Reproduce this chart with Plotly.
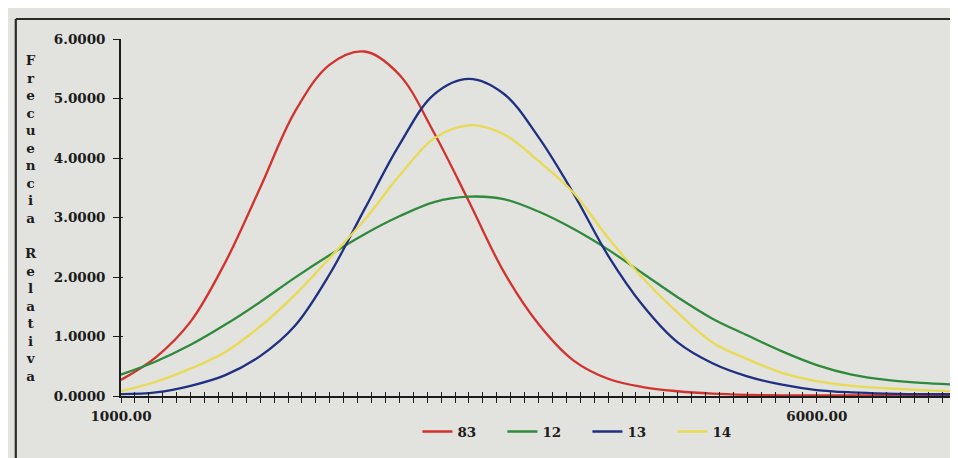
import plotly.graph_objects as go

# ---- data ----
x_vals = [1000, 1250, 1500, 1750, 2000, 2250, 2500, 2750, 3000, 3250, 3500, 3750,
          4000, 4250, 4500, 4750, 5000, 5250, 5500, 5750, 6000, 6250, 6500, 6750, 7000]

series_names = ["83", "12", "13", "14"]

s83 = [0.27, 0.65, 1.25, 2.25, 3.50, 4.78, 5.57, 5.79, 5.40, 4.42, 3.27, 2.09,
       1.21, 0.60, 0.29, 0.15, 0.08, 0.04, 0.02, 0.01, 0.01, 0.01, 0.01, 0.01, 0.01]
s12 = [0.36, 0.58, 0.86, 1.20, 1.58, 1.99, 2.37, 2.72, 3.02, 3.26, 3.35, 3.31,
       3.10, 2.81, 2.46, 2.06, 1.66, 1.30, 1.02, 0.75, 0.52, 0.36, 0.27, 0.22, 0.19]
s13 = [0.03, 0.06, 0.17, 0.35, 0.67, 1.18, 2.05, 3.14, 4.22, 5.07, 5.33, 5.08,
       4.35, 3.41, 2.36, 1.52, 0.90, 0.55, 0.33, 0.19, 0.10, 0.06, 0.04, 0.03, 0.03]
s14 = [0.08, 0.24, 0.46, 0.74, 1.17, 1.70, 2.32, 2.96, 3.70, 4.33, 4.55, 4.40,
       3.95, 3.42, 2.66, 1.98, 1.40, 0.90, 0.62, 0.39, 0.25, 0.17, 0.13, 0.10, 0.08]

x_tick_vals = [1000, 6000]
x_tick_text = ["1000.00", "6000.00"]
y_tick_vals = [0, 1, 2, 3, 4, 5, 6]
y_title = "Frecuencia Relativa"

colors = ["#d1322d", "#2f8a3c", "#1f2f82", "#e8da52"]
series = [s83, s12, s13, s14]

BG = "#e2e2de"
INK = "#1c1c1c"
FONT = "DejaVu Serif"
FS = 13.5

fig = go.Figure()
for name, ys, c in zip(series_names, series, colors):
    fig.add_trace(go.Scatter(x=x_vals, y=ys, mode="lines", name=name,
                             line=dict(color=c, width=2.3, shape="spline", smoothing=1.0),
                             hoverinfo="skip"))

# invisible companion trace to host the overlay axes (inside half of the crossing ticks)
fig.add_trace(go.Scatter(x=x_vals, y=s83, xaxis="x2", yaxis="y2", mode="lines",
                         line=dict(width=0), opacity=0, showlegend=False, hoverinfo="skip"))

# vertical stacked title
title_text = "<br>".join(" " if ch == " " else ch for ch in y_title)

fnt = dict(family=FONT, size=FS, color=INK, weight="bold")

fig.update_layout(
    width=958, height=458, autosize=False,
    margin=dict(l=113, r=10, t=31, b=70),
    paper_bgcolor=BG, plot_bgcolor=BG,
    font=fnt,
    showlegend=True,
    legend=dict(orientation="h", x=0.355, y=-0.10, xanchor="left", yanchor="middle",
                bgcolor="rgba(0,0,0,0)", font=fnt,
                entrywidth=40, itemwidth=30),
    xaxis=dict(range=[1000, 7000], showgrid=False, zeroline=False,
               showline=True, linecolor=INK, linewidth=1.6,
               tickmode="array", tickvals=x_tick_vals, ticktext=x_tick_text,
               ticks="outside", ticklen=5, tickwidth=1.4, tickcolor=INK,
               minor=dict(dtick=100, tick0=1000, ticks="outside", ticklen=5,
                          tickwidth=1.4, tickcolor=INK, showgrid=False),
               tickfont=fnt, ticklabelstandoff=2),
    yaxis=dict(range=[0, 6], showgrid=False, zeroline=False,
               showline=True, linecolor=INK, linewidth=1.6,
               tickmode="array", tickvals=y_tick_vals, tickformat=".4f",
               ticks="outside", ticklen=6, tickwidth=1.4, tickcolor=INK,
               tickfont=fnt, ticklabelstandoff=5),
    xaxis2=dict(overlaying="x", matches="x", range=[1000, 7000], showgrid=False,
                zeroline=False, showline=False, side="bottom", anchor="y2",
                tickmode="linear", tick0=1000, dtick=100, ticks="inside",
                ticklen=4, tickwidth=1.4, tickcolor=INK, showticklabels=False),
    yaxis2=dict(overlaying="y", matches="y", range=[0, 6], showgrid=False,
                zeroline=False, showline=False, side="left", anchor="x2",
                tickmode="linear", tick0=0, dtick=1, ticks="inside",
                ticklen=2, tickwidth=1.4, tickcolor=INK, showticklabels=False),
    annotations=[dict(text=title_text, xref="paper", yref="paper",
                      x=-0.108, y=0.968, xanchor="center", yanchor="top",
                      showarrow=False, align="center", font=fnt)],
    shapes=[
        dict(type="line", xref="paper", yref="paper", x0=-0.126, x1=1.1,
             y0=1.056, y1=1.056, line=dict(color="#2a2a2a", width=2.2)),
        dict(type="line", xref="paper", yref="paper", x0=-0.126, x1=-0.126,
             y0=1.056, y1=-0.25, line=dict(color="#2a2a2a", width=2.2)),
    ],
)

fig.write_html("out.html")
